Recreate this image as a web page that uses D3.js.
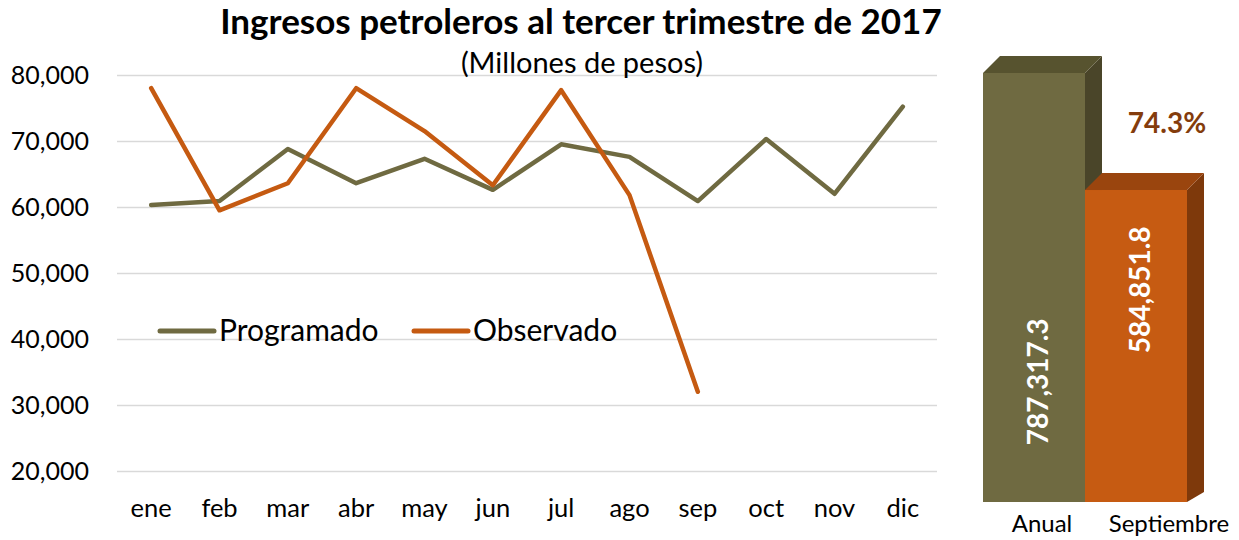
<!DOCTYPE html>
<html lang="es">
<head>
  <meta charset="UTF-8">
  <script src="https://cdn.jsdelivr.net/npm/d3@7"></script>
  <style>
    body { margin: 0; background: #fff; }
    text { font-family: Lato, "Open Sans", sans-serif; }
  </style>
  <title>Ingresos petroleros</title>
</head>
<body>
  <svg class="svg" width="1239" height="540"></svg>
  <script>
    // datos mensuales (millones de pesos)
    const months = ["ene", "feb", "mar", "abr", "may", "jun", "jul", "ago", "sep", "oct", "nov", "dic"]
    const programado = [60300, 60900, 68800, 63600, 67300, 62600, 69500, 67600, 60900, 70300, 62000, 75200]
    const observado = [78000, 59500, 63600, 78000, 71500, 63300, 77700, 61800, 32000]
    const yTicks = [20000, 30000, 40000, 50000, 60000, 70000, 80000]
    const seriesNames = ["Programado", "Observado"]

    // acumulados
    const barCats = ["Anual", "Septiembre"]
    const barValues = [787317.3, 584851.8]

    const olive = "#6f6a41", orange = "#c55a11"

    let svg = d3.select(".svg")

    let x = d3.scaleBand().domain(months).range([117, 937])
    let y = d3.scaleLinear().domain([20000, 80000]).range([471, 75])

    // rejilla y etiquetas del eje y
    svg.append("g")
      .attr("transform", "translate(117,0)")
      .call(d3.axisLeft(y).tickValues(yTicks).tickFormat(d3.format(",")).tickSize(-820))
      .call(g => g.select(".domain").remove())
      .call(g => g.selectAll(".tick line").attr("stroke", "#d9d9d9").attr("stroke-width", 1.5))
      .call(g => g.selectAll(".tick text")
        .attr("x", -28).attr("font-size", 25).attr("fill", "#000"))

    // eje x
    svg.append("g")
      .attr("transform", "translate(0,471)")
      .call(d3.axisBottom(x).tickSize(0))
      .call(g => g.select(".domain").remove())
      .call(g => g.selectAll(".tick text")
        .attr("y", 46).attr("dy", 0)
        .attr("font-size", 25.5).attr("fill", "#000"))

    let line = d3.line()
      .x((d, i) => x(months[i]) + x.bandwidth() / 2)
      .y(d => y(d))

    svg.append("path")
      .datum(programado)
      .attr("d", line)
      .attr("fill", "none").attr("stroke", olive).attr("stroke-width", 4.5)
      .attr("stroke-linejoin", "round").attr("stroke-linecap", "round")

    svg.append("path")
      .datum(observado)
      .attr("d", line)
      .attr("fill", "none").attr("stroke", orange).attr("stroke-width", 4.5)
      .attr("stroke-linejoin", "round").attr("stroke-linecap", "round")

    // leyenda
    const legX = [160, 414]
    let leg = svg.append("g").selectAll("g")
      .data(seriesNames)
      .join("g")
      .attr("transform", (d, i) => `translate(${legX[i]},331)`)
    leg.append("line")
      .attr("x1", 0).attr("x2", 54)
      .attr("stroke", (d, i) => i ? orange : olive)
      .attr("stroke-width", 5).attr("stroke-linecap", "round")
    leg.append("text")
      .attr("x", 59).attr("y", 10)
      .attr("font-size", 30)
      .text(d => d)

    // titulos
    svg.append("text")
      .attr("x", 581).attr("y", 34)
      .attr("text-anchor", "middle").attr("font-weight", "bold").attr("font-size", 35)
      .text("Ingresos petroleros al tercer trimestre de 2017")
    svg.append("text")
      .attr("x", 582).attr("y", 73)
      .attr("text-anchor", "middle").attr("font-size", 29)
      .text("(Millones de pesos)")

    // barras 3d (el piso queda por encima del cero, como en la perspectiva de excel)
    let bx = d3.scaleBand().domain(barCats).range([983, 1187])
    let by = d3.scaleLinear().domain([0, barValues[0]]).range([528, 73])
    const floor = 502
    const dx = 17, dyTop = -17, dyBot = -10
    const labelPos = [0.72, 0.32]
    const faces = [
      { front: olive, top: "#57532f", side: "#4a4529" },
      { front: "#c65b12", top: "#9a450e", side: "#7e390b" }
    ]

    let bars = svg.append("g").selectAll("g")
      .data(barValues)
      .join("g")
    bars.each(function (v, i) {
      let g = d3.select(this)
      let x0 = bx(barCats[i]), x1 = x0 + bx.bandwidth()
      let yT = by(v), yB = floor
      g.append("polygon")
        .attr("points", [[x1, yT], [x1 + dx, yT + dyTop], [x1 + dx, yB + dyBot], [x1, yB]].join(" "))
        .attr("fill", faces[i].side)
      g.append("polygon")
        .attr("points", [[x0, yT], [x0 + dx, yT + dyTop], [x1 + dx, yT + dyTop], [x1, yT]].join(" "))
        .attr("fill", faces[i].top)
      g.append("rect")
        .attr("x", x0).attr("y", yT)
        .attr("width", bx.bandwidth()).attr("height", yB - yT)
        .attr("fill", faces[i].front)
      g.append("text")
        .attr("transform", `translate(${x0 + bx.bandwidth() / 2 + 4},${yT + (yB - yT) * labelPos[i]}) rotate(-90)`)
        .attr("text-anchor", "middle").attr("dy", "0.36em")
        .attr("fill", "#fff").attr("font-weight", "bold").attr("font-size", 28)
        .text(d3.format(",.1f")(v))
      g.append("text")
        .attr("x", x0 + bx.bandwidth() / 2 + [8, 33][i]).attr("y", 532)
        .attr("text-anchor", "middle").attr("font-size", 24)
        .text(barCats[i])
    })

    // porcentaje de avance
    svg.append("text")
      .attr("x", 1167).attr("y", 133)
      .attr("text-anchor", "middle").attr("font-weight", "bold").attr("font-size", 28)
      .attr("fill", "#843c0c")
      .text(d3.format(".1%")(barValues[1] / barValues[0]))
  </script>
</body>
</html>
